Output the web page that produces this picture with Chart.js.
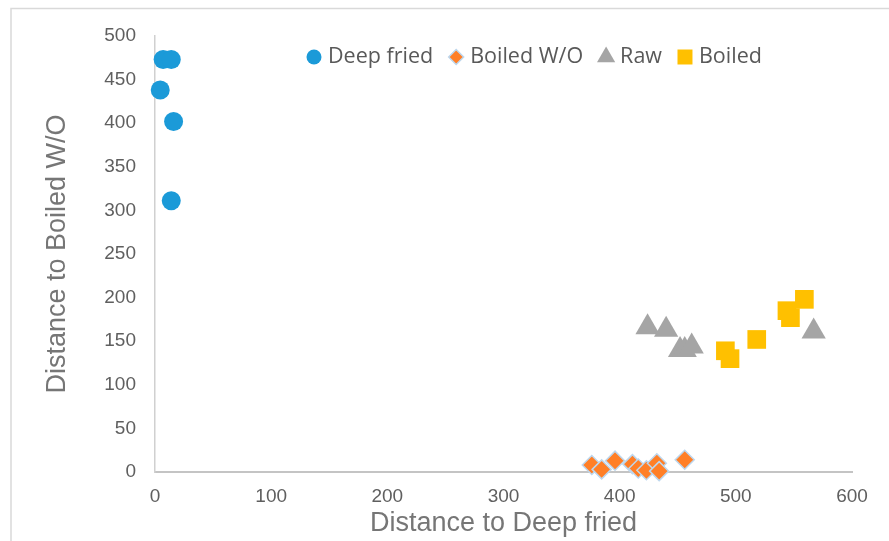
<!DOCTYPE html>
<html>
<head>
<meta charset="utf-8">
<script src="https://cdn.jsdelivr.net/npm/chart.js@4.4.0/dist/chart.umd.min.js"></script>
<style>
  html, body { margin: 0; padding: 0; background: #fff; }
</style>
</head>
<body>
<canvas id="chart" width="889" height="541"></canvas>
<script>
// series names (legend order)
const seriesNames = ['Deep fried', 'Boiled W/O', 'Raw', 'Boiled'];

// values
const deepFriedX = [7, 14, 4.5, 16, 14];
const deepFriedY = [473, 473, 438, 402, 311];

const boiledWoX = [376, 384.5, 396, 411, 416, 423, 432, 434, 456];
const boiledWoY = [8, 3, 13, 9, 4, 2, 10, 1, 14];

const rawX = [424, 440, 452, 456, 462, 567];
const rawY = [166, 163, 140, 140, 144, 161];

const boiledX = [491, 495, 518, 544, 547, 559];
const boiledY = [139, 130, 152, 185, 177, 198];

// axis ticks
const xTicks = [0, 100, 200, 300, 400, 500, 600];
const yTicks = [0, 50, 100, 150, 200, 250, 300, 350, 400, 450, 500];

function points(xs, ys) {
  return xs.map((x, i) => ({ x: x, y: ys[i] }));
}

// legend marker sizes (smaller than the plotted markers)
const legendRadius = [7.5, 7.5, 10.5, 10.6];

// light frame round the chart, and a one-row legend inside the plot
const framePlugin = {
  id: 'frame',
  beforeDraw(chart) {
    const ctx = chart.ctx;
    ctx.save();
    ctx.strokeStyle = '#d9d9d9';
    ctx.lineWidth = 1.5;
    ctx.strokeRect(11, 8.5, 900, 600);
    ctx.restore();
  },
  afterDraw(chart) {
    const ctx = chart.ctx;
    ctx.save();
    ctx.font = '21.5px "Open Sans", "Noto Sans", sans-serif';
    ctx.textBaseline = 'middle';
    let x = 314;
    const y = 57;
    chart.data.datasets.forEach((ds, i) => {
      ctx.fillStyle = ds.backgroundColor;
      ctx.strokeStyle = ds.borderColor;
      ctx.lineWidth = ds.borderWidth;
      Chart.helpers.drawPoint(ctx, {
        pointStyle: ds.pointStyle,
        radius: legendRadius[i],
        borderWidth: ds.borderWidth,
        rotation: 0
      }, x, y);
      ctx.fillStyle = '#595959';
      ctx.fillText(ds.label, x + 14, y);
      x += 14 + ctx.measureText(ds.label).width + 23;
    });
    ctx.restore();
  }
};

const tickFont = { family: 'Liberation Sans, Arial, sans-serif', size: 19 };
const titleFont = { family: 'Liberation Sans, Arial, sans-serif', size: 27 };

new Chart(document.getElementById('chart'), {
  type: 'scatter',
  data: {
    datasets: [
      {
        label: seriesNames[0],
        data: points(deepFriedX, deepFriedY),
        pointStyle: 'circle',
        pointRadius: 9.5,
        backgroundColor: '#1b9ad8',
        borderColor: '#1b9ad8',
        borderWidth: 0,
        clip: false
      },
      {
        label: seriesNames[1],
        data: points(boiledWoX, boiledWoY),
        pointStyle: 'rectRot',
        pointRadius: 9.5,
        backgroundColor: '#ff7f27',
        borderColor: '#bdd7ee',
        borderWidth: 1.5,
        clip: false
      },
      {
        label: seriesNames[2],
        data: points(rawX, rawY),
        pointStyle: 'triangle',
        pointRadius: 14,
        backgroundColor: '#a5a5a5',
        borderColor: '#a5a5a5',
        borderWidth: 0,
        clip: false
      },
      {
        label: seriesNames[3],
        data: points(boiledX, boiledY),
        pointStyle: 'rect',
        pointRadius: 13.2,
        backgroundColor: '#ffc000',
        borderColor: '#ffc000',
        borderWidth: 0,
        clip: false
      }
    ]
  },
  options: {
    responsive: false,
    animation: false,
    layout: { padding: { left: 10, top: 36, right: 37, bottom: 0 } },
    plugins: {
      tooltip: { enabled: false },
      legend: { display: false }
    },
    scales: {
      x: {
        type: 'linear',
        min: 0,
        max: 600,
        afterBuildTicks: s => { s.ticks = xTicks.map(v => ({ value: v })); },
        afterFit: s => { s.height = 69; },
        grid: { display: false, drawTicks: false },
        border: { display: true, color: '#c4c4c4', width: 2 },
        ticks: { color: '#5f5f5f', font: tickFont, padding: 13 },
        title: {
          display: true,
          text: 'Distance to Deep fried',
          color: '#767676',
          font: titleFont,
          padding: { top: 0, bottom: 1 }
        }
      },
      y: {
        type: 'linear',
        min: 0,
        max: 500,
        afterBuildTicks: s => { s.ticks = yTicks.map(v => ({ value: v })); },
        afterFit: s => { s.width = 145; },
        grid: { display: false, drawTicks: false },
        border: { display: true, color: '#d0d0d0', width: 1.5 },
        ticks: { color: '#5f5f5f', font: tickFont, padding: 19 },
        title: {
          display: true,
          text: 'Distance to Boiled W/O',
          color: '#767676',
          font: titleFont,
          padding: { top: 31, bottom: 0 }
        }
      }
    }
  },
  plugins: [framePlugin]
});
</script>
</body>
</html>
